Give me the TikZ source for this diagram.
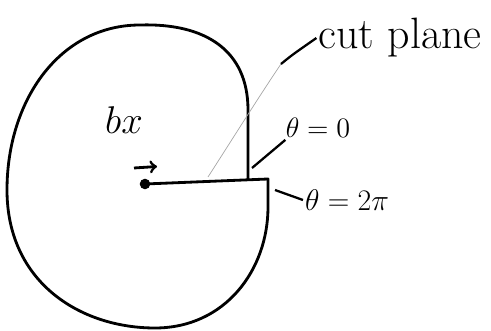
\RequirePackage{fix-cm}
\documentclass[tikz,border=0pt]{standalone}
\usepackage{fontspec}
\tikzset{
  outline/.style={line width=1.6pt, line join=round},
  leader/.style={line width=1.3pt},
  faint/.style={line width=0.4pt, gray!70},
  dot/.style={circle,fill=black,inner sep=0pt,minimum size=6pt},
  hand/.style={inner sep=1pt},
}

\begin{document}
\begin{tikzpicture}[x=0.02cm,y=-0.02cm]
        \useasboundingbox (0,0) rectangle (491,331);
        % start point and the cut, then round the region
        \node[dot] (start) at (145,184) {};
        \draw[outline] (start.center) -- (268,179) -- (268,207)
          .. controls (268,270) and (225,328) .. (155,328)
          .. controls (80,328) and (7,282) .. (7,190)
          .. controls (7,100) and (60,25) .. (140,25)
          .. controls (205,23) and (248,50) .. (248,110)
          -- (248,179.5);

        % direction of travel
        \coordinate (arrtail) at (134,168);
        \coordinate (arrhead) at (157,166.5);
        \draw[->, line width=1.6pt] (arrtail) -- (arrhead);

        % labels
        \node[hand, font=\fontsize{22}{26}\selectfont] (bxlabel) at (124,120) {$bx$};
        \node[hand, font=\fontsize{25}{30}\selectfont] (cutlabel) at (400,38) {cut plane};
        \node[hand, font=\fontsize{16}{20}\selectfont] (theta0) at (318,128) {$\theta=0$};
        \node[hand, font=\fontsize{17}{20}\selectfont] (theta2pi) at (347,200) {$\theta=2\pi$};

        % pointer to the cut
        \coordinate (cutfoot) at (208,177);
        \coordinate (cutbend) at (281,64);
        \draw[faint] (cutfoot) .. controls (235,135) and (260,95) .. (cutbend);
        \draw[leader] (cutbend) .. controls (292,55) .. (cutlabel.west);

        % the two sides of the cut
        \coordinate (zerofoot) at (252,168);
        \coordinate (twopifoot) at (275,190);
        \draw[leader] (zerofoot) -- (theta0.200);
        \draw[leader] (twopifoot) -- (theta2pi.west);
    \end{tikzpicture}
\end{document}
